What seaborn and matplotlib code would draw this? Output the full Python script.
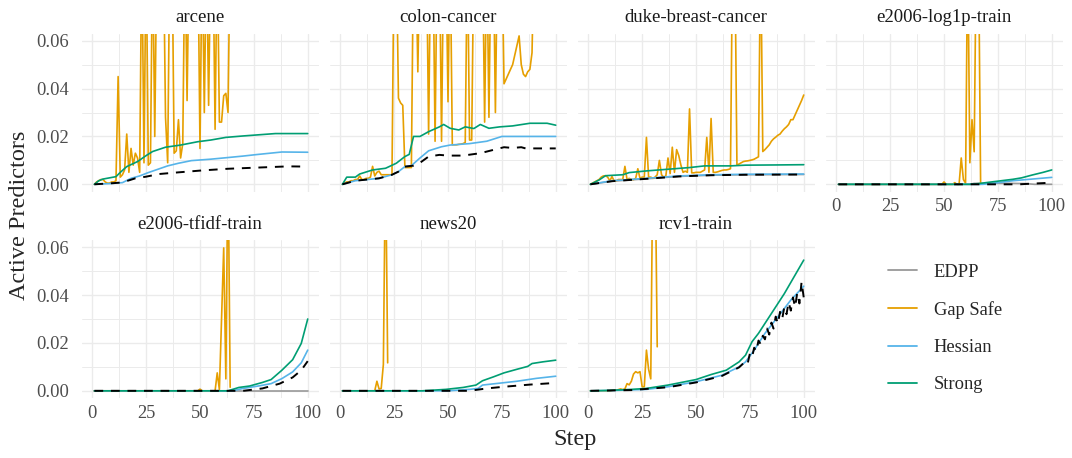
import matplotlib
matplotlib.use("Agg")
import numpy as np
import pandas as pd
import matplotlib.pyplot as plt
import seaborn as sns
from matplotlib.lines import Line2D

# ---------------- data ----------------
datasets = ["arcene", "colon-cancer", "duke-breast-cancer", "e2006-log1p-train",
            "e2006-tfidf-train", "news20", "rcv1-train"]
methods = ["EDPP", "Gap Safe", "Hessian", "Strong"]
colors = ["#999999", "#E69F00", "#56B4E9", "#009E73"]
x_ticks = [0, 25, 50, 75, 100]
y_ticks = [0.00, 0.02, 0.04, 0.06]
y_tick_labels = ["0.00", "0.02", "0.04", "0.06"]

# (step, value) pairs
arcene_strong = [(1, 0), (3, 0.0015), (5, 0.0022), (11, 0.0032), (13, 0.005), (16, 0.0074), (21, 0.0095),
                 (25, 0.012), (28, 0.0137), (34, 0.0155), (41, 0.0164), (49, 0.0178), (55, 0.0185),
                 (62, 0.0196), (70, 0.0202), (76, 0.0206), (85, 0.0212), (100, 0.0212)]
arcene_hessian = [(1, 0), (8, 0.0003), (14, 0.0007), (18, 0.0025), (22, 0.0035), (26, 0.0049), (35, 0.0077),
                  (40, 0.0088), (46, 0.0099), (55, 0.0105), (62, 0.0111), (70, 0.0118), (76, 0.0124),
                  (88, 0.0135), (100, 0.0134)]
arcene_true = [(1, 0), (10, 0.0005), (14, 0.0008), (20, 0.0025), (25, 0.0032), (31, 0.0043), (40, 0.005),
               (51, 0.0058), (63, 0.0065), (77, 0.007), (91, 0.0075), (100, 0.0074)]
arcene_gap = [0, 0.001, 0.0015, 0.002, 0.002, 0.001, 0.0005, 0.0005, 0.001, 0.001,
              0.0015, 0.045, 0.003, 0.004, 0.006, 0.021, 0.005, 0.015, 0.008, 0.013,
              0.011, 0.005, 0.1, 0.009, 0.1, 0.008, 0.009, 0.1, 0.02, 0.1,
              0.1, 0.1, 0.1, 0.028, 0.009, 0.1, 0.1, 0.013, 0.014, 0.027,
              0.011, 0.017, 0.1, 0.035, 0.1, 0.1, 0.1, 0.1, 0.1, 0.015,
              0.1, 0.03, 0.1, 0.033, 0.1, 0.1, 0.023, 0.1, 0.026, 0.026,
              0.037, 0.038, 0.03, 0.1]

colon_strong = [(1, 0), (3, 0.003), (7, 0.003), (9, 0.0043), (15, 0.006), (21, 0.0067), (26, 0.0088),
                (30, 0.0116), (32, 0.0125), (34, 0.02), (37, 0.02), (41, 0.022), (46, 0.024), (48, 0.025),
                (51, 0.0234), (55, 0.0227), (58, 0.024), (62, 0.0233), (65, 0.025), (69, 0.0234),
                (74, 0.024), (80, 0.0244), (88, 0.0255), (96, 0.0255), (100, 0.0247)]
colon_hessian = [(1, 0), (7, 0.0015), (18, 0.0025), (24, 0.004), (27, 0.0053), (30, 0.0074), (33, 0.0078),
                 (37, 0.011), (41, 0.014), (47, 0.0157), (51, 0.0164), (60, 0.017), (68, 0.018),
                 (75, 0.02), (100, 0.02)]
colon_true = [(1, 0), (7, 0.0015), (18, 0.0025), (24, 0.004), (27, 0.0053), (30, 0.0074), (34, 0.0078),
              (37, 0.009), (41, 0.0116), (46, 0.0123), (50, 0.012), (57, 0.012), (65, 0.013), (72, 0.0146),
              (76, 0.0155), (80, 0.0152), (84, 0.0155), (86, 0.015), (100, 0.015)]
colon_gap = [0, 0.0005, 0.001, 0.001, 0.0015, 0.0015, 0.002, 0.002, 0.0035, 0.002,
             0.002, 0.0025, 0.0025, 0.003, 0.0075, 0.0035, 0.005, 0.0055, 0.004, 0.004,
             0.004, 0.004, 0.004, 0.004, 0.1, 0.1, 0.036, 0.034, 0.033, 0.007,
             0.007, 0.007, 0.007, 0.1, 0.1, 0.047, 0.1, 0.1, 0.1, 0.1,
             0.021, 0.1, 0.1, 0.018, 0.1, 0.1, 0.018, 0.1, 0.1, 0.0345,
             0.1, 0.0165, 0.0165, 0.0165, 0.0167, 0.0168, 0.017, 0.0175, 0.1, 0.0185,
             0.0185, 0.1, 0.1, 0.1, 0.1, 0.1, 0.026, 0.1, 0.028, 0.1,
             0.1, 0.03, 0.1, 0.1, 0.1, 0.042, 0.044, 0.046, 0.048, 0.05,
             0.054, 0.058, 0.062, 0.05, 0.046, 0.045, 0.047, 0.048, 0.055, 0.1,
             0.1, 0.1, 0.1, 0.1, 0.1, 0.1, 0.1, 0.1, 0.1, 0.1]

duke_strong = [(1, 0), (5, 0.0018), (8, 0.0036), (16, 0.004), (19, 0.0049), (27, 0.0056), (37, 0.0063),
               (47, 0.007), (54, 0.0077), (66, 0.0077), (73, 0.008), (88, 0.0081), (100, 0.0082)]
duke_hessian = [(1, 0), (11, 0.0015), (27, 0.0025), (42, 0.0035), (57, 0.004), (73, 0.0042), (100, 0.0043)]
duke_true = [(1, 0), (11, 0.0013), (27, 0.0023), (42, 0.0033), (57, 0.0038), (73, 0.004), (100, 0.0041)]
duke_edpp = [(1, 0), (11, 0.0013), (27, 0.0023), (42, 0.0033), (57, 0.0038), (73, 0.004), (100, 0.0041)]
duke_gap = [0, 0.0005, 0.001, 0.0015, 0.002, 0.003, 0.0035, 0.0036, 0.003, 0.0015,
            0.0032, 0.0015, 0.0015, 0.002, 0.002, 0.002, 0.0075, 0.002, 0.0025, 0.002,
            0.002, 0.0025, 0.0065, 0.0025, 0.003, 0.003, 0.0196, 0.003, 0.003, 0.0025,
            0.003, 0.004, 0.010, 0.004, 0.003, 0.0035, 0.011, 0.0045, 0.0155, 0.005,
            0.0145, 0.012, 0.008, 0.005, 0.0055, 0.005, 0.0315, 0.0048, 0.0048, 0.005,
            0.005, 0.005, 0.0055, 0.006, 0.0196, 0.005, 0.0275, 0.005, 0.005, 0.0052,
            0.0055, 0.0058, 0.006, 0.006, 0.0062, 0.0065, 0.1, 0.1, 0.008, 0.0085,
            0.009, 0.0095, 0.0097, 0.0098, 0.01, 0.0102, 0.0105, 0.011, 0.0115, 0.1,
            0.0137, 0.0145, 0.0155, 0.0165, 0.018, 0.019, 0.0197, 0.0205, 0.021, 0.0222,
            0.0232, 0.024, 0.025, 0.027, 0.027, 0.029, 0.031, 0.033, 0.035, 0.0373]

log1p_strong = [(1, 0), (62, 0), (66, 0.0003), (73, 0.0011), (82, 0.0021), (86, 0.0027), (91, 0.0039),
                (96, 0.005), (100, 0.006)]
log1p_hessian = [(1, 0), (68, 0), (75, 0.0007), (82, 0.0015), (91, 0.0022), (100, 0.0029)]
log1p_true = [(1, 0), (85, 0), (91, 0.0003), (96, 0.0005), (100, 0.0007)]
log1p_edpp = [(1, 0), (62, 0), (64, 0.0004), (80, 0.0004), (88, 0.0003), (92, 0), (100, 0)]
log1p_gap = [0] * 49 + [0.001, 0, 0, 0, 0, 0.0007, 0, 0, 0.011, 0.002, 0.0005,
                        0.1, 0.009, 0.027, 0.0136, 0.1, 0.1, 0]

tfidf_strong = [(1, 0), (63, 0), (68, 0.0014), (73, 0.002), (79, 0.0035), (83, 0.0047), (88, 0.0086),
                (93, 0.013), (97, 0.0198), (100, 0.03)]
tfidf_hessian = [(1, 0), (65, 0), (70, 0.001), (77, 0.002), (83, 0.003), (88, 0.0051), (93, 0.0079),
                 (97, 0.0117), (100, 0.017)]
tfidf_true = [(1, 0), (70, 0), (79, 0.001), (87, 0.003), (93, 0.0056), (97, 0.0086), (100, 0.0124)]
tfidf_edpp = [(1, 0), (100, 0)]
tfidf_gap = [0] * 49 + [0.0007, 0, 0, 0, 0, 0, 0, 0, 0.0075, 0.0005, 0.03,
                        0.0597, 0.005, 0.1, 0.0015]

news_strong = [(1, 0), (38, 0), (49, 0.0006), (57, 0.0014), (63, 0.0024), (66, 0.0042), (71, 0.0058),
               (76, 0.0075), (82, 0.009), (87, 0.0102), (89, 0.0114), (94, 0.0121), (100, 0.0128)]
news_hessian = [(1, 0), (50, 0), (60, 0.0006), (64, 0.001), (66, 0.0024), (72, 0.003), (82, 0.004),
                (91, 0.0052), (100, 0.0061)]
news_true = [(1, 0), (60, 0), (68, 0.001), (76, 0.0017), (88, 0.0026), (100, 0.0033)]
news_gap = [0] * 16 + [0.004, 0.0008, 0.001, 0.011, 0.1, 0.0117]

rcv1_strong = [(1, 0), (10, 0.0002), (20, 0.0006), (27, 0.001), (37, 0.0024), (50, 0.0047), (57, 0.0068),
               (64, 0.0086), (70, 0.0121), (73, 0.0149), (76, 0.0205), (79, 0.024), (85, 0.0323),
               (91, 0.0406), (100, 0.0546)]
rcv1_hessian = [(1, 0), (10, 0.0001), (20, 0.0004), (27, 0.0006), (37, 0.0017), (50, 0.0038), (62, 0.0065),
                (70, 0.01), (73, 0.0121), (77, 0.017), (82, 0.024), (88, 0.0309), (94, 0.0379),
                (100, 0.0437)]
rcv1_true = [(1, 0), (20, 0.0003), (37, 0.0015), (50, 0.0035), (62, 0.0062), (70, 0.0098), (72, 0.0115),
             (73, 0.0125), (74, 0.0115), (75, 0.0155), (76, 0.014), (77, 0.018), (78, 0.0165),
             (79, 0.021), (80, 0.0195), (81, 0.023), (82, 0.0215), (83, 0.026), (84, 0.0235),
             (85, 0.0285), (86, 0.026), (87, 0.031), (88, 0.028), (89, 0.033), (90, 0.030),
             (91, 0.035), (92, 0.032), (93, 0.037), (94, 0.0335), (95, 0.039), (96, 0.035),
             (97, 0.041), (98, 0.0365), (99, 0.0455), (100, 0.039)]
rcv1_gap = [0] * 10 + [0.0002, 0.0003, 0.0003, 0.0005, 0.0008, 0.0005, 0.0008, 0.003, 0.0025, 0.004,
                       0.007, 0.008, 0.0075, 0.008, 0.0017, 0.0017, 0.017, 0.009, 0.005, 0.1,
                       0.1, 0.0184]

series = {
    "arcene": {"Gap Safe": arcene_gap, "Hessian": arcene_hessian, "Strong": arcene_strong, "True": arcene_true},
    "colon-cancer": {"Gap Safe": colon_gap, "Hessian": colon_hessian, "Strong": colon_strong, "True": colon_true},
    "duke-breast-cancer": {"EDPP": duke_edpp, "Gap Safe": duke_gap, "Hessian": duke_hessian,
                           "Strong": duke_strong, "True": duke_true},
    "e2006-log1p-train": {"EDPP": log1p_edpp, "Gap Safe": log1p_gap, "Hessian": log1p_hessian,
                          "Strong": log1p_strong, "True": log1p_true},
    "e2006-tfidf-train": {"EDPP": tfidf_edpp, "Gap Safe": tfidf_gap, "Hessian": tfidf_hessian,
                          "Strong": tfidf_strong, "True": tfidf_true},
    "news20": {"Gap Safe": news_gap, "Hessian": news_hessian, "Strong": news_strong, "True": news_true},
    "rcv1-train": {"Gap Safe": rcv1_gap, "Hessian": rcv1_hessian, "Strong": rcv1_strong, "True": rcv1_true},
}

rows = []
for ds, d in series.items():
    for m, vals in d.items():
        if len(vals) and isinstance(vals[0], tuple):
            for s, v in vals:
                rows.append((ds, m, s, v))
        else:
            for i, v in enumerate(vals):
                rows.append((ds, m, i + 1, v))
df = pd.DataFrame(rows, columns=["dataset", "method", "step", "value"])

# ---------------- plot ----------------
sns.set_theme(style="white")
plt.rcParams["font.family"] = ["Liberation Serif", "DejaVu Serif"]

W, H = 1072, 458
fig = plt.figure(figsize=(W / 100, H / 100), dpi=100)
pal = dict(zip(methods, colors))

col_left = [81.5, 329.5, 577.5, 825.5]
row_top = [33.5, 240.0]
pw, ph = 237.0, 158.0

for k, ds in enumerate(datasets):
    r, c = divmod(k, 4)
    ax = fig.add_axes([col_left[c] / W, 1 - (row_top[r] + ph) / H, pw / W, ph / H])
    sub = df[df.dataset == ds]
    sns.lineplot(data=sub[sub.method != "True"], x="step", y="value", hue="method",
                 hue_order=methods, palette=pal, ax=ax, legend=False, linewidth=1.2,
                 estimator=None, errorbar=None)
    sns.lineplot(data=sub[sub.method == "True"], x="step", y="value", color="black",
                 linestyle=(0, (4.5, 4)), linewidth=1.4, ax=ax, legend=False,
                 estimator=None, errorbar=None)
    ax.set_xlim(-5, 105)
    ax.set_ylim(-0.003, 0.063)
    ax.set_xticks(x_ticks)
    ax.set_xticks([12.5, 37.5, 62.5, 87.5], minor=True)
    ax.set_yticks(y_ticks)
    ax.set_yticks([0.01, 0.03, 0.05], minor=True)
    ax.grid(which="major", color="#EBEBEB", linewidth=1.0)
    ax.grid(which="minor", color="#EBEBEB", linewidth=0.7)
    ax.set_axisbelow(True)
    for sp in ax.spines.values():
        sp.set_visible(False)
    ax.tick_params(which="both", length=0, labelsize=13.3, labelcolor="#4D4D4D")
    ax.tick_params(axis="x", pad=5)
    ax.tick_params(axis="y", pad=9)
    if c == 0:
        ax.set_yticklabels(y_tick_labels)
    else:
        ax.set_yticklabels([])
    if r == 1 or c == 3:
        ax.set_xticklabels([str(t) for t in x_ticks])
    else:
        ax.set_xticklabels([])
    ax.set_xlabel("")
    ax.set_ylabel("")
    ax.set_title(ds, fontsize=13.5, color="#1A1A1A", pad=8)

fig.text(575 / W, 1 - 440 / H, "Step", ha="center", va="center", fontsize=17.5)
fig.text(20 / W, 1 - 215 / H, "Active Predictors", ha="center", va="center",
         rotation=90, fontsize=17.5)

handles = [Line2D([0], [0], color=pal[m], linewidth=1.3) for m in methods]
fig.legend(handles, methods, loc="upper left", bbox_to_anchor=(871 / W, 1 - 247 / H),
           frameon=False, fontsize=13.3, handlelength=1.6, labelspacing=1.1, handletextpad=0.9)

fig.savefig("out.png", dpi=100)
